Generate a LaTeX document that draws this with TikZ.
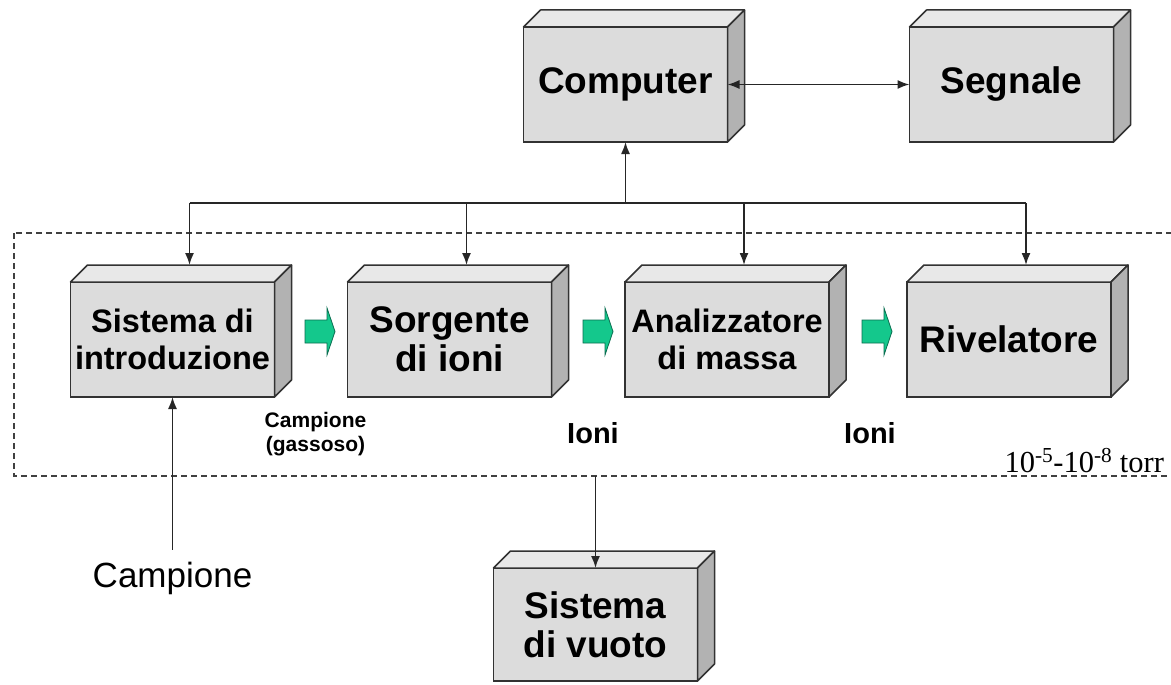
\documentclass[tikz,border=0pt]{standalone}
\usepackage{fontspec}
\setmainfont{Liberation Sans}
\newfontfamily\serifrm{Liberation Serif}
\usetikzlibrary{arrows.meta,calc}
\definecolor{frontc}{RGB}{220,220,220}
\definecolor{topc}{RGB}{232,232,232}
\definecolor{sidec}{RGB}{178,178,178}
\definecolor{edgec}{RGB}{50,50,50}
\definecolor{greenc}{RGB}{20,200,140}
\definecolor{greenedge}{RGB}{10,110,80}
\tikzset{
  box3d/.style={draw=edgec, fill=frontc, line width=1.5pt, minimum width=204pt,
    minimum height=115pt, inner sep=0pt, outer sep=0pt, align=center,
    font=\bfseries\fontsize{37}{39}\selectfont},
  smalltext/.style={font=\bfseries\fontsize{32.5}{37}\selectfont},
  topface/.style={draw=edgec, fill=topc, line width=1.5pt, line join=round},
  sideface/.style={draw=edgec, fill=sidec, line width=1.5pt, line join=round},
  conn/.style={line width=1.6pt, draw=black!85},
  tip/.style={-{Latex[length=12pt,width=9pt]}},
  dbltip/.style={{Latex[length=12pt,width=9pt]}-{Latex[length=12pt,width=9pt]}},
  vacbox/.style={draw=black!75, line width=1.2pt, dash pattern=on 6pt off 4pt},
  garrow/.pic={\draw[fill=greenc, draw=greenedge, line width=0.8pt, line join=miter]
    (0,-11.5) -- (22,-11.5) -- (22,-23.5) -- (30,0) -- (22,23.5) -- (22,11.5) -- (0,11.5) -- cycle;},
  lbl/.style={inner sep=0pt, outer sep=0pt}
}
\newcommand\facesof[1]{%
  \draw[topface] (#1.north west) -- ++(17,-17) -- ($(#1.north east)+(17,-17)$) -- (#1.north east) -- cycle;
  \draw[sideface] (#1.north east) -- ++(17,-17) -- ($(#1.south east)+(17,-17)$) -- (#1.south east) -- cycle;
  \coordinate (#1-t) at ($(#1.north)+(17,-17)$);}
\begin{document}
\begin{tikzpicture}[x=1pt,y=-1pt]
\useasboundingbox[fill=white] (0,0) rectangle (1171,685);

% vacuum region
\draw[vacbox] (14,233) rectangle (1200,476);
\coordinate (dashb) at (0,476);

% boxes
\node[box3d] (comp) at (625.5,84.5) {Computer};
\facesof{comp}
\node[box3d] (seg) at (1011.5,84.5) {Segnale};
\facesof{seg}
\node[box3d, smalltext] (intro) at (172.5,339.5) {Sistema di\\introduzione};
\facesof{intro}
\node[box3d] (sorg) at (449.5,339.5) {Sorgente\\di ioni};
\facesof{sorg}
\node[box3d, smalltext] (anal) at (727,339.5) {Analizzatore\\di massa};
\facesof{anal}
\node[box3d] (riv) at (1009,339.5) {Rivelatore};
\facesof{riv}
\node[box3d, minimum height=113pt] (vuoto) at (595.5,624.5) {Sistema\\di vuoto};
\facesof{vuoto}

% green flow arrows
\pic at (305,331.5) {garrow};
\pic at (583,331.5) {garrow};
\pic at (862,331.5) {garrow};

% labels
\node[lbl, align=center, font=\bfseries\fontsize{21}{24}\selectfont] (gas) at (315.5,434) {Campione\\(gassoso)};
\node[lbl, anchor=base, font=\bfseries\fontsize{29}{30}\selectfont] (ioni1) at (593,443) {Ioni};
\node[lbl, anchor=base, font=\bfseries\fontsize{29}{30}\selectfont] (ioni2) at (870,443) {Ioni};
\node[lbl, anchor=base east, font=\serifrm\fontsize{30.5}{33}\selectfont] (torr) at (1164,472) {10\textsuperscript{-5}-10\textsuperscript{-8} torr};
\node[lbl, anchor=base, font=\fontsize{35}{38}\selectfont] (campione) at (172.5,587) {Campione};

% connectors
\coordinate (busy) at (0,203);
\coordinate (j) at (comp.south |- busy);
\draw[conn] (intro-t |- j) -- (riv-t |- j);
\draw[conn,tip] (j) -- (comp.south);
\foreach \n in {intro,sorg,anal,riv} {\draw[conn,tip] (\n-t |- j) -- (\n-t);}
\draw[conn,dbltip] (comp.east) -- (seg.west);
\draw[conn,tip] ($(campione.north)+(0,-12)$) -- (intro.south);
\draw[conn,tip] (vuoto.north |- dashb) -- (vuoto.north);
\end{tikzpicture}
\end{document}
